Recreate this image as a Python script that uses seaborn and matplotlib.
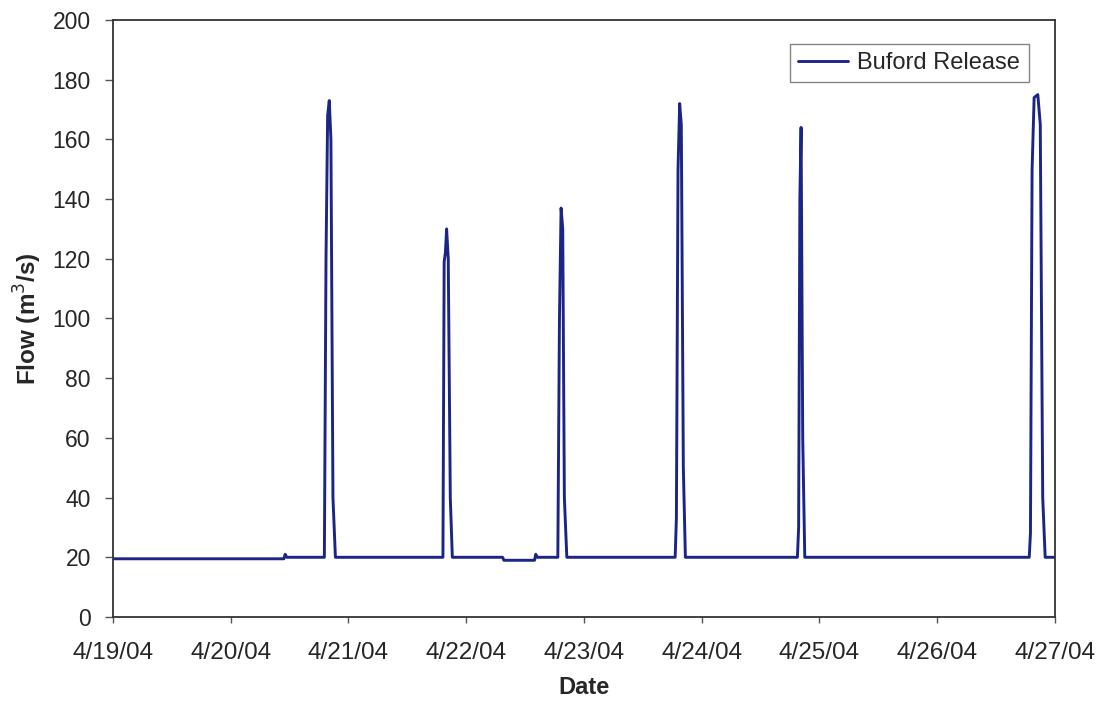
import pandas as pd
import matplotlib.pyplot as plt
import matplotlib.dates as mdates
import seaborn as sns

# Buford release hydrograph, breakpoints
times = [
    "2004-04-19 00:00", "2004-04-20 10:50", "2004-04-20 11:05", "2004-04-20 11:25",
    "2004-04-20 19:05", "2004-04-20 19:25", "2004-04-20 19:45", "2004-04-20 20:05",
    "2004-04-20 20:25", "2004-04-20 20:50", "2004-04-20 21:20",
    "2004-04-21 19:15", "2004-04-21 19:30", "2004-04-21 19:45", "2004-04-21 20:00",
    "2004-04-21 20:20", "2004-04-21 20:45", "2004-04-21 21:10",
    "2004-04-22 07:25", "2004-04-22 07:40", "2004-04-22 13:55", "2004-04-22 14:10",
    "2004-04-22 14:30", "2004-04-22 18:40", "2004-04-22 19:00", "2004-04-22 19:20",
    "2004-04-22 19:40", "2004-04-22 20:00", "2004-04-22 20:30",
    "2004-04-23 18:35", "2004-04-23 18:50", "2004-04-23 19:10", "2004-04-23 19:30",
    "2004-04-23 19:50", "2004-04-23 20:15", "2004-04-23 20:40",
    "2004-04-24 19:30", "2004-04-24 19:45", "2004-04-24 20:00", "2004-04-24 20:15",
    "2004-04-24 20:35", "2004-04-24 21:00",
    "2004-04-26 18:45", "2004-04-26 19:00", "2004-04-26 19:20", "2004-04-26 19:45",
    "2004-04-26 20:30", "2004-04-26 21:00", "2004-04-26 21:30", "2004-04-26 22:00",
    "2004-04-27 00:00",
]
flow = [
    19.5, 19.5, 21, 20,
    20, 120, 168, 173,
    160, 40, 20,
    20, 119, 122, 130,
    120, 40, 20,
    20, 19, 19, 21,
    20, 20, 100, 137,
    130, 40, 20,
    20, 33, 150, 172,
    165, 50, 20,
    20, 30, 140, 164,
    60, 20,
    20, 28, 150, 174,
    175, 165, 40, 20,
    20,
]

df = pd.DataFrame({"Date": pd.to_datetime(times), "Flow": flow})

sns.set_style("ticks")
plt.rcParams["font.family"] = ["Liberation Sans", "DejaVu Sans"]

fig = plt.figure(figsize=(10.97, 7.04), dpi=100)
ax = fig.add_axes([0.1030, 0.1236, 0.8587, 0.848])

sns.lineplot(data=df, x="Date", y="Flow", color="#1c2586", linewidth=2.1,
             label="Buford Release", ax=ax)

ax.set_xlim(pd.Timestamp("2004-04-19"), pd.Timestamp("2004-04-27"))
ax.set_ylim(0, 200)
ax.set_yticks(range(0, 201, 20))
ax.xaxis.set_major_locator(mdates.DayLocator())
ax.xaxis.set_major_formatter(mdates.DateFormatter("%-m/%d/%y"))

ax.tick_params(axis="x", labelsize=17.5, length=4, width=1, color="#555555", pad=14)
ax.tick_params(axis="y", labelsize=16.5, length=6, width=1, color="#555555", pad=10)
for s in ax.spines.values():
    s.set_visible(True)
    s.set_color("#333333")
    s.set_linewidth(1.3)

ax.set_xlabel("Date", fontsize=17, fontweight="bold", labelpad=9)
ax.set_ylabel("Flow (m$^3$/s)", fontsize=17.5, fontweight="bold", labelpad=6)

ax.legend(loc="upper right", bbox_to_anchor=(0.972, 0.96), borderaxespad=0,
          fontsize=17, frameon=True, fancybox=False, edgecolor="#666666",
          handlelength=2.1, handletextpad=0.4, borderpad=0.35)

fig.savefig("out.png", dpi=100)
